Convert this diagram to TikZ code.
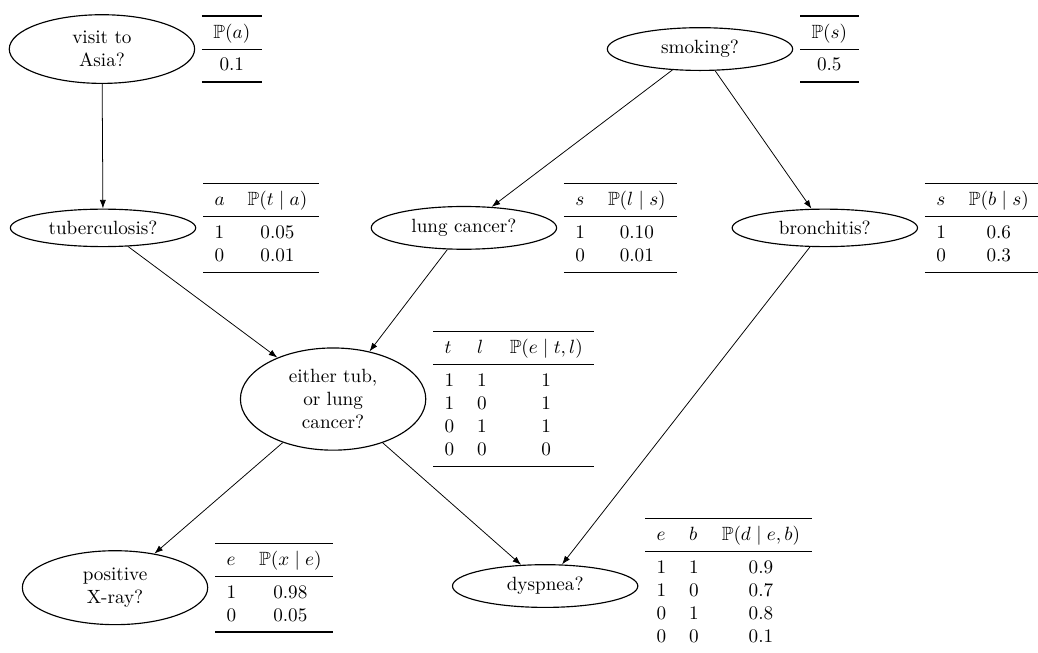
\documentclass[tikz,border=0pt]{standalone}
\usepackage{amssymb}
\usepackage{booktabs}
\usetikzlibrary{shapes.geometric, arrows.meta}
\begin{document}
\begin{tikzpicture}[>={Latex[length=4.5pt, width=3.2pt]}, var/.style={draw, semithick, ellipse, minimum width=3.4cm, align=center}, cpt/.style={anchor=west}]
    \useasboundingbox (0,0) rectangle (19.04,-11.96);
        % variables
        \node[var] (asia) at (1.87, -0.90) {visit to\\Asia?};
        \node[var] (smoke) at (12.84, -0.90) {smoking?};
        \node[var] (tub) at (1.89, -4.18) {tuberculosis?};
        \node[var] (lung) at (8.51, -4.18) {lung cancer?};
        \node[var] (bronc) at (15.13, -4.18) {bronchitis?};
        \node[var] (either) at (6.11, -7.32) {either tub,\\or lung\\cancer?};
        \node[var] (xray) at (2.11, -10.78) {positive\\X-ray?};
        \node[var] (dysp) at (10.00, -10.75) {dyspnea?};
        % tables
        \node[cpt] (asiatab) at (asia.east) {\begin{tabular}{c}\toprule $\mathbb{P}(a)$\\\midrule 0.1\\\bottomrule\end{tabular}};
        \node[cpt] (smoketab) at (smoke.east) {\begin{tabular}{c}\toprule $\mathbb{P}(s)$\\\midrule 0.5\\\bottomrule\end{tabular}};
        \node[cpt] (tubtab) at (tub.east) {\begin{tabular}{lc}\toprule $a$ & $\mathbb{P}(t \mid a)$\\\midrule 1 & 0.05\\ 0 & 0.01\\\bottomrule\end{tabular}};
        \node[cpt] (lungtab) at (lung.east) {\begin{tabular}{lc}\toprule $s$ & $\mathbb{P}(l \mid s)$\\\midrule 1 & 0.10\\ 0 & 0.01\\\bottomrule\end{tabular}};
        \node[cpt] (bronctab) at (bronc.east) {\begin{tabular}{lc}\toprule $s$ & $\mathbb{P}(b \mid s)$\\\midrule 1 & 0.6\\ 0 & 0.3\\\bottomrule\end{tabular}};
        \node[cpt] (eithertab) at (either.east) {\begin{tabular}{llc}\toprule $t$ & $l$ & $\mathbb{P}(e \mid t, l)$\\\midrule 1 & 1 & 1\\ 1 & 0 & 1\\ 0 & 1 & 1\\ 0 & 0 & 0\\\bottomrule\end{tabular}};
        \node[cpt] (xraytab) at (xray.east) {\begin{tabular}{lc}\toprule $e$ & $\mathbb{P}(x \mid e)$\\\midrule 1 & 0.98\\ 0 & 0.05\\\bottomrule\end{tabular}};
        \node[cpt] (dysptab) at (dysp.east) {\begin{tabular}{llc}\toprule $e$ & $b$ & $\mathbb{P}(d \mid e, b)$\\\midrule 1 & 1 & 0.9\\ 1 & 0 & 0.7\\ 0 & 1 & 0.8\\ 0 & 0 & 0.1\\\bottomrule\end{tabular}};
        % edges
        \draw[->] (asia) -- (tub);
        \draw[->] (smoke) -- (lung);
        \draw[->] (smoke) -- (bronc);
        \draw[->] (tub) -- (either);
        \draw[->] (lung) -- (either);
        \draw[->] (either) -- (xray);
        \draw[->] (either) -- (dysp);
        \draw[->] (bronc) -- (dysp);
    \end{tikzpicture}
\end{document}
